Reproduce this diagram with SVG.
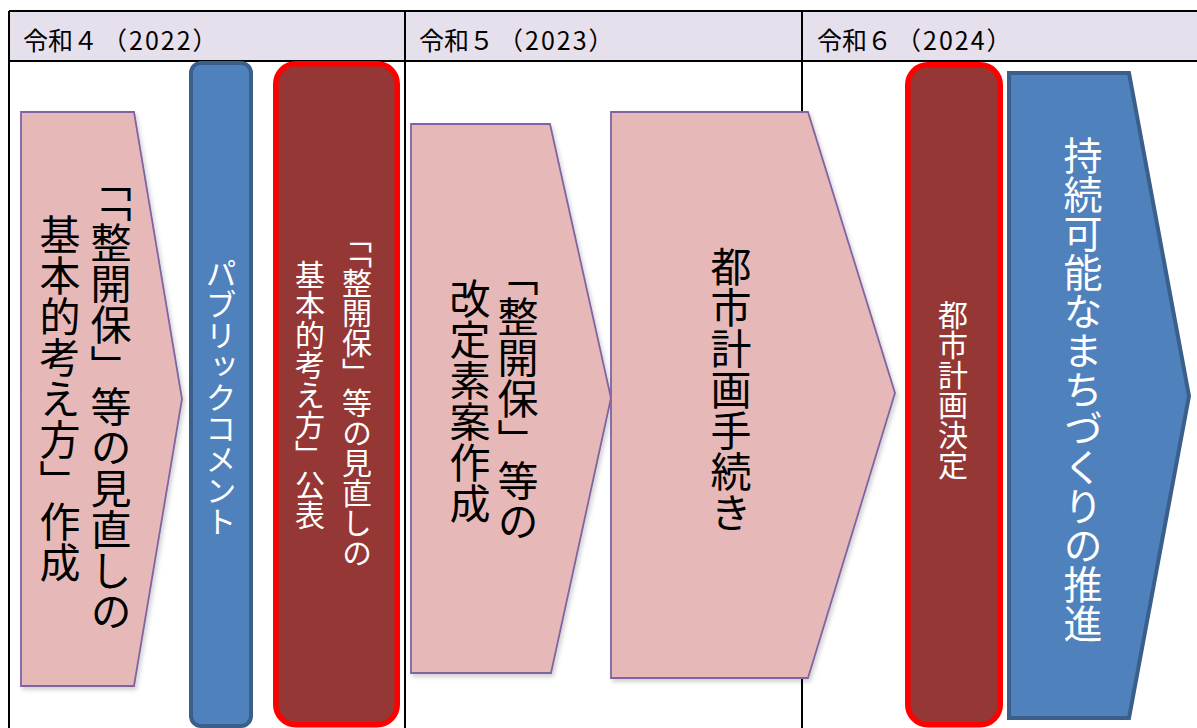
<svg xmlns="http://www.w3.org/2000/svg" width="1197" height="728" viewBox="0 0 1197 728">
<defs>
<filter id="sh" x="-10%" y="-10%" width="130%" height="130%"><feDropShadow dx="2" dy="3" stdDeviation="2" flood-color="#000" flood-opacity="0.18"/></filter>
</defs>
<style>
.hdr{fill:#E5E0EC}
.grid{stroke:#000;stroke-width:2;fill:none}
.htxt{font-family:"Noto Sans CJK JP",sans-serif;font-size:25px;fill:#000}
.num{letter-spacing:2px}
.pink{fill:#E6B9B8;stroke:#8064A2;stroke-width:1.8}
.blue{fill:#4F81BD;stroke:#3A5F8B;stroke-width:4}
.red{fill:#953735;stroke:#FF0000;stroke-width:5.5}
.v{font-family:"Noto Sans CJK JP",sans-serif;writing-mode:vertical-rl}
.bk{fill:#000}
.wt{fill:#fff}
.half{font-feature-settings:"vhal" 1}
</style>
<g id="table">
<rect class="hdr" x="9" y="11" width="1188" height="50"/>
<path class="grid" d="M9,11H1197M9,61H1197M9,11V728M405,11V728M802,11V728"/>
<text class="htxt" x="23" y="50">令和４<tspan dx="4">（</tspan><tspan class="num" dx="2">2022</tspan><tspan dx="0">）</tspan></text>
<text class="htxt" x="419" y="50">令和５<tspan dx="4">（</tspan><tspan class="num" dx="2">2023</tspan><tspan dx="0">）</tspan></text>
<text class="htxt" x="817" y="50">令和６<tspan dx="4">（</tspan><tspan class="num" dx="2">2024</tspan><tspan dx="0">）</tspan></text>
</g>
<g id="node1">
<path class="pink" filter="url(#sh)" d="M21,112L134,112L182,399L134,686L21,686Z"/>
<text class="v bk" x="111" y="181" font-size="41"><tspan class="half">「「</tspan>整開保」等の見直しの</text>
<text class="v bk" x="60" y="214" font-size="41">基本的考え方」作成</text>
</g>
<g id="node2">
<rect class="blue" x="191" y="63" width="60" height="663" rx="10"/>
<text class="v wt" x="221" y="258" font-size="31">パブリックコメント</text>
</g>
<g id="node3">
<rect class="red" x="275.75" y="63.75" width="121.5" height="661" rx="20"/>
<text class="v wt" x="357" y="238" font-size="30"><tspan class="half">「「</tspan>整開保」等の見直しの</text>
<text class="v wt" x="310" y="260" font-size="30">基本的考え方」公表</text>
</g>
<g id="node4">
<path class="pink" filter="url(#sh)" d="M411,124L550,124L611,398L551,673L411,673Z"/>
<text class="v bk" x="518" y="255" font-size="41">「整開保」等の</text>
<text class="v bk" x="470" y="278" font-size="41">改定素案作成</text>
</g>
<g id="node5">
<path class="pink" filter="url(#sh)" d="M611,112L808,112L895,393L808,678L611,678Z"/>
<text class="v bk" x="731" y="246" font-size="41">都市計画手続き</text>
</g>
<g id="node6">
<rect class="red" x="907.75" y="64.75" width="92.5" height="660" rx="20"/>
<text class="v wt" x="953" y="300" font-size="30">都市計画決定</text>
</g>
<g id="node7">
<path class="blue" d="M1009,73L1129,73L1189,396L1129,718L1009,718Z"/>
<text class="v wt" x="1083" y="136" font-size="39">持続可能なまちづくりの推進</text>
</g>
<g id="connectors"/>
</svg>
